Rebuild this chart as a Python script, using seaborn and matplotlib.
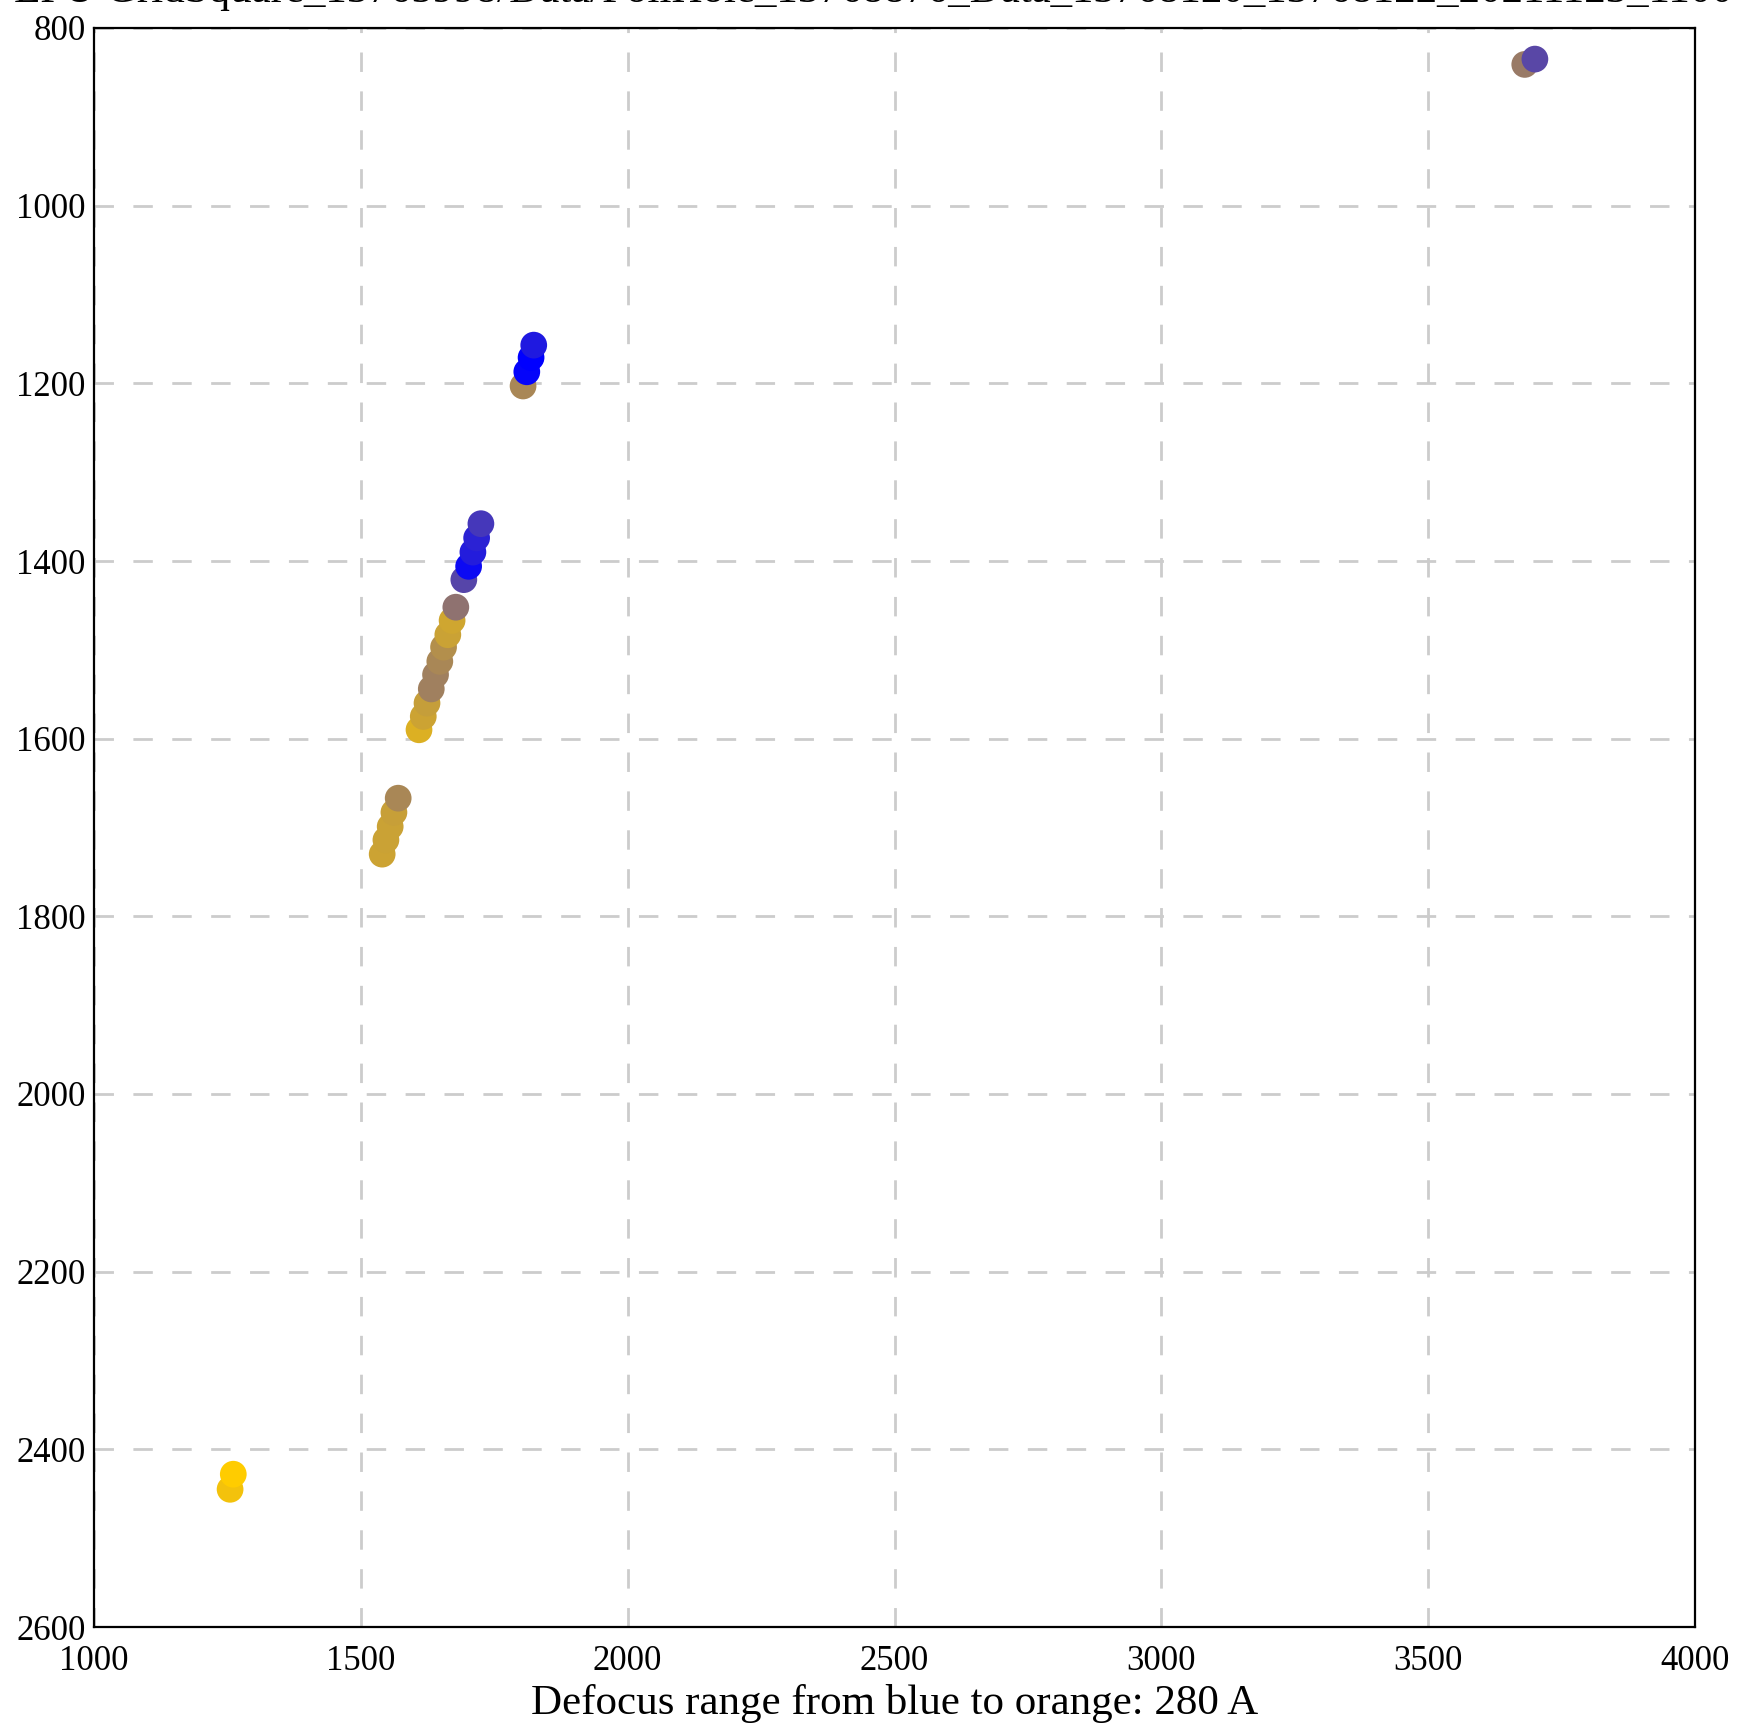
import numpy as np
import pandas as pd
import matplotlib
matplotlib.use("Agg")
import matplotlib.pyplot as plt
from matplotlib.colors import LinearSegmentedColormap
import seaborn as sns

# hole positions, listed bottom to top (drawing order)
pos_x = [1255, 1261,
         1540, 1547, 1555, 1562, 1570,
         1609, 1617, 1624, 1632, 1640, 1648, 1655, 1663, 1671, 1678,
         1693, 1702, 1710, 1717, 1725,
         1804, 1811, 1819, 1824,
         3681, 3700]
pos_y = [2445, 2428,
         1730, 1714, 1699, 1683, 1667,
         1590, 1575, 1560, 1544, 1528, 1513, 1497, 1483, 1467, 1452,
         1421, 1406, 1390, 1374, 1358,
         1203, 1187, 1171, 1157,
         841, 835]
# relative defocus (A), 0 = blue, 280 = orange
defocus = [266, 280,
           224, 221, 221, 218, 185,
           241, 224, 216, 176, 176, 185, 196, 221, 227, 157,
           95, 14, 39, 48, 76,
           185, 6, 0, 34,
           168, 98]

title = "EPU GridSquare_13765998/Data/FoilHole_13768876_Data_13768120_13768122_20211123_110043"
xlabel = "Defocus range from blue to orange: 280 A"

df = pd.DataFrame({"x": pos_x, "y": pos_y, "defocus": defocus})
cmap = LinearSegmentedColormap.from_list("blue_orange", ["#0000ff", "#ffcc00"])

sns.set_style("white")
plt.rcParams["font.family"] = ["Liberation Serif", "DejaVu Serif"]
plt.rcParams["text.color"] = "black"
plt.rcParams["xtick.color"] = "black"
plt.rcParams["ytick.color"] = "black"
plt.rcParams["axes.labelcolor"] = "black"

fig = plt.figure(figsize=(17.4, 17.29), dpi=100)
ax = fig.add_axes([94 / 1740, 1 - 1627 / 1729, 1601 / 1740, 1599 / 1729])

sns.scatterplot(data=df, x="x", y="y", hue="defocus", palette=cmap,
                hue_norm=(0, 280), s=370, linewidth=0, legend=False, ax=ax, zorder=3)

ax.set_xlim(1000, 4000)
ax.set_ylim(2600, 800)
ax.set_xticks(np.arange(1000, 4001, 500))
ax.set_yticks(np.arange(800, 2601, 200))
ax.grid(True, color="#cccccc", linestyle=(0, (7, 7)), linewidth=2)
for s in ax.spines.values():
    s.set_linewidth(1.6)
    s.set_color("black")
ax.tick_params(direction="in", length=10, width=1.2, labelsize=25)
ax.tick_params(axis="x", pad=13)
ax.tick_params(axis="y", pad=6)
ax.set_xlabel(xlabel, fontsize=31, labelpad=4)
ax.set_ylabel("")
ax.set_title(title, fontsize=31, pad=19)

fig.savefig("out.png", dpi=100)
